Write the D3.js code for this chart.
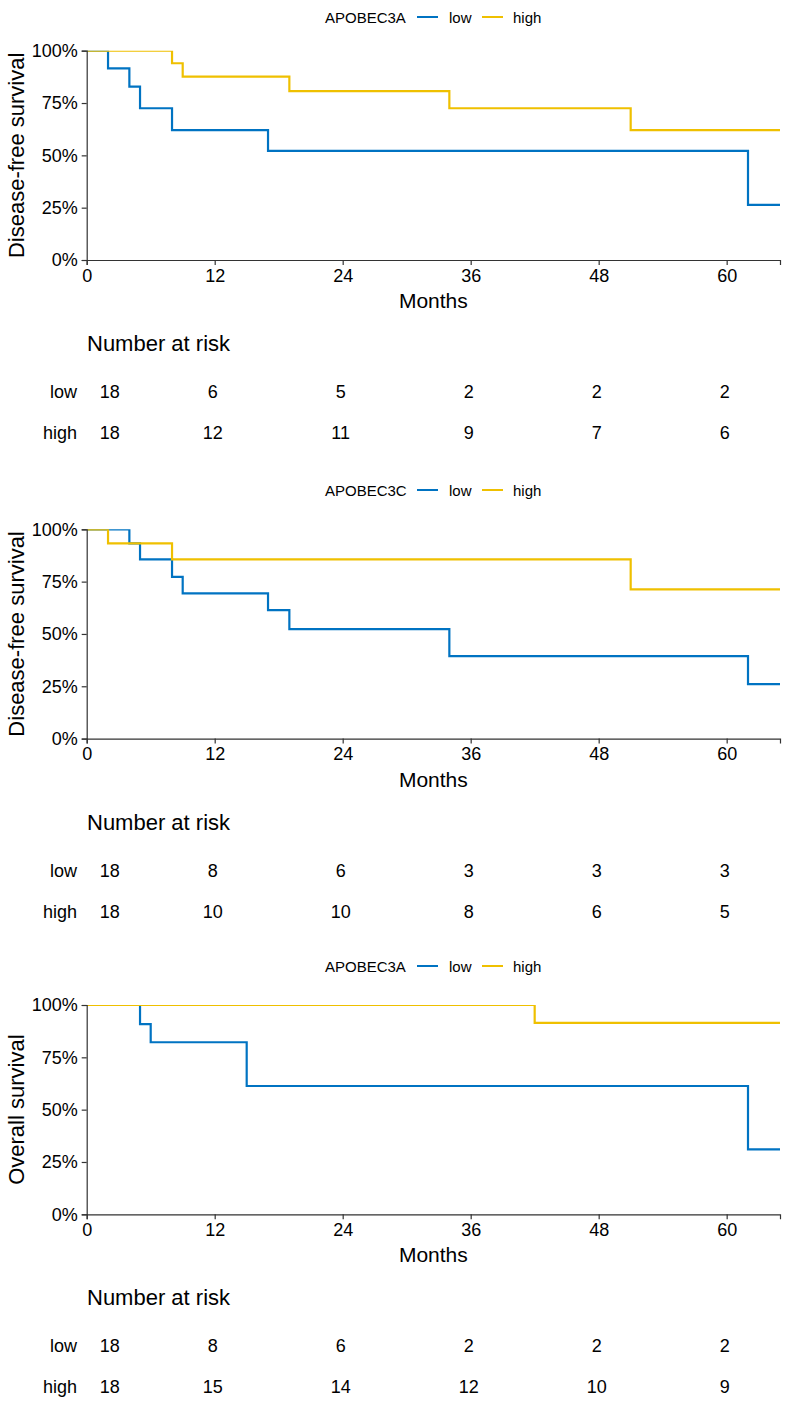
<!DOCTYPE html>
<html>
<head>
<meta charset="utf-8">
<script src="https://cdn.jsdelivr.net/npm/d3@7"></script>
<style>
  body { margin: 0; background: #fff; }
  svg text { font-family: "Liberation Sans", Arial, sans-serif; fill: #000; }
</style>
</head>
<body>
<div id="chart"></div>
<script>
// tick months shared by the axis and the risk tables
const monthTicks = [0, 12, 24, 36, 48, 60];
const survTicks = [0, 0.25, 0.5, 0.75, 1];

const genes = ["APOBEC3A", "APOBEC3C", "APOBEC3A"];
const yTitles = ["Disease-free survival", "Disease-free survival", "Overall survival"];

// panel 1 - APOBEC3A, disease-free
const p1LowTime = [0, 2, 4, 5, 8, 17, 62, 65];
const p1LowSurv = [1, 0.916, 0.828, 0.725, 0.621, 0.521, 0.263, 0.263];
const p1HighTime = [0, 8, 9, 19, 34, 51, 65];
const p1HighSurv = [1, 0.94, 0.876, 0.807, 0.725, 0.621, 0.621];
const p1RiskLow = [18, 6, 5, 2, 2, 2];
const p1RiskHigh = [18, 12, 11, 9, 7, 6];

// panel 2 - APOBEC3C, disease-free
const p2LowTime = [0, 4, 5, 8, 9, 17, 19, 34, 62, 65];
const p2LowSurv = [1, 0.933, 0.856, 0.773, 0.694, 0.614, 0.523, 0.394, 0.26, 0.26];
const p2HighTime = [0, 2, 8, 51, 65];
const p2HighSurv = [1, 0.933, 0.856, 0.713, 0.713];
const p2RiskLow = [18, 8, 6, 3, 3, 3];
const p2RiskHigh = [18, 10, 10, 8, 6, 5];

// panel 3 - APOBEC3A, overall
const p3LowTime = [0, 5, 6, 15, 62, 65];
const p3LowSurv = [1, 0.909, 0.822, 0.613, 0.31, 0.31];
const p3HighTime = [0, 42, 65];
const p3HighSurv = [1, 0.915, 0.915];
const p3RiskLow = [18, 8, 6, 2, 2, 2];
const p3RiskHigh = [18, 15, 14, 12, 10, 9];

const colLow = "#0073C2", colHigh = "#EFC000";
const axisCol = "#333333";

var panels = [
    { low: [p1LowTime, p1LowSurv], high: [p1HighTime, p1HighSurv], risk: [p1RiskLow, p1RiskHigh], top: 50.7, legendY: 23 },
    { low: [p2LowTime, p2LowSurv], high: [p2HighTime, p2HighSurv], risk: [p2RiskLow, p2RiskHigh], top: 529.3, legendY: 496 },
    { low: [p3LowTime, p3LowSurv], high: [p3HighTime, p3HighSurv], risk: [p3RiskLow, p3RiskHigh], top: 1005, legendY: 972 }
];

var W = 786, H = 1403;
var left = 86.7, right = 780, plotH = 209.3;

var svg = d3.select("#chart").append("svg")
    .attr("width", W).attr("height", H);

var x = d3.scaleLinear().domain([0, 65]).range([left, right]);

function toPoints(pair) {
    return pair[0].map((t, i) => [t, pair[1][i]]);
}

panels.forEach(function (p, k) {
    var y = d3.scaleLinear().domain([0, 1]).range([p.top + plotH, p.top]);
    var g = svg.append("g");

    // legend
    var lg = g.append("g").attr("transform", "translate(0," + p.legendY + ")");
    lg.append("text").attr("x", 325).attr("y", 0).style("font-size", "15px").text(genes[k]);
    lg.append("line").attr("x1", 417).attr("x2", 438).attr("y1", -6).attr("y2", -6)
        .attr("stroke", colLow).attr("stroke-width", 2);
    lg.append("text").attr("x", 449).attr("y", 0).style("font-size", "15px").text("low");
    lg.append("line").attr("x1", 482).attr("x2", 503).attr("y1", -6).attr("y2", -6)
        .attr("stroke", colHigh).attr("stroke-width", 2);
    lg.append("text").attr("x", 513).attr("y", 0).style("font-size", "15px").text("high");

    // clip to the panel like ggplot does
    var clipId = "clip" + k;
    svg.append("clipPath").attr("id", clipId).append("rect")
        .attr("x", x(0)).attr("y", y(1)).attr("width", x(65) - x(0)).attr("height", y(0) - y(1));

    var line = d3.line()
        .x(d => x(d[0]))
        .y(d => y(d[1]))
        .curve(d3.curveStepAfter);

    var curves = g.append("g").attr("clip-path", "url(#" + clipId + ")");
    curves.append("path").datum(toPoints(p.low)).attr("d", line)
        .attr("fill", "none").attr("stroke", colLow).attr("stroke-width", 2.2);
    curves.append("path").datum(toPoints(p.high)).attr("d", line)
        .attr("fill", "none").attr("stroke", colHigh).attr("stroke-width", 2.2);

    // axes
    var xAxis = g.append("g")
        .attr("transform", "translate(0," + y(0) + ")")
        .call(d3.axisBottom(x).tickValues(monthTicks).tickSizeOuter(0).tickSize(5).tickPadding(4));
    var yAxis = g.append("g")
        .attr("transform", "translate(" + x(0) + ",0)")
        .call(d3.axisLeft(y).tickValues(survTicks).tickFormat(d3.format(".0%")).tickSizeOuter(0).tickSize(5).tickPadding(4));
    [xAxis, yAxis].forEach(function (a) {
        a.select(".domain").attr("stroke", axisCol).attr("stroke-width", 1.2);
        a.selectAll(".tick line").attr("stroke", axisCol).attr("stroke-width", 1.2);
        a.selectAll(".tick text").style("font-size", "18px").style("font-family", "Liberation Sans, Arial, sans-serif").attr("fill", "#000");
    });

    g.append("text")
        .attr("x", (left + right) / 2)
        .attr("y", y(0) + 48)
        .attr("text-anchor", "middle")
        .style("font-size", "21px")
        .text("Months");

    g.append("text")
        .attr("transform", "rotate(-90)")
        .attr("x", -(y(0) + y(1)) / 2)
        .attr("y", 24)
        .attr("text-anchor", "middle")
        .style("font-size", "22px")
        .text(yTitles[k]);

    // number at risk table
    var base = y(0);
    g.append("text").attr("x", 87).attr("y", base + 91)
        .style("font-size", "22px").text("Number at risk");
    var rowNames = ["low", "high"];
    var rowY = [base + 138, base + 179];
    rowNames.forEach(function (name, r) {
        g.append("text").attr("x", 77).attr("y", rowY[r])
            .attr("text-anchor", "end").style("font-size", "18px").text(name);
        g.selectAll(".risk" + r)
            .data(p.risk[r])
            .enter().append("text")
            .attr("x", (d, i) => i === 0 ? x(0) + 23 : x(monthTicks[i]) - 2)
            .attr("y", rowY[r])
            .attr("text-anchor", "middle")
            .style("font-size", "18px")
            .text(d => d);
    });
});
</script>
</body>
</html>
